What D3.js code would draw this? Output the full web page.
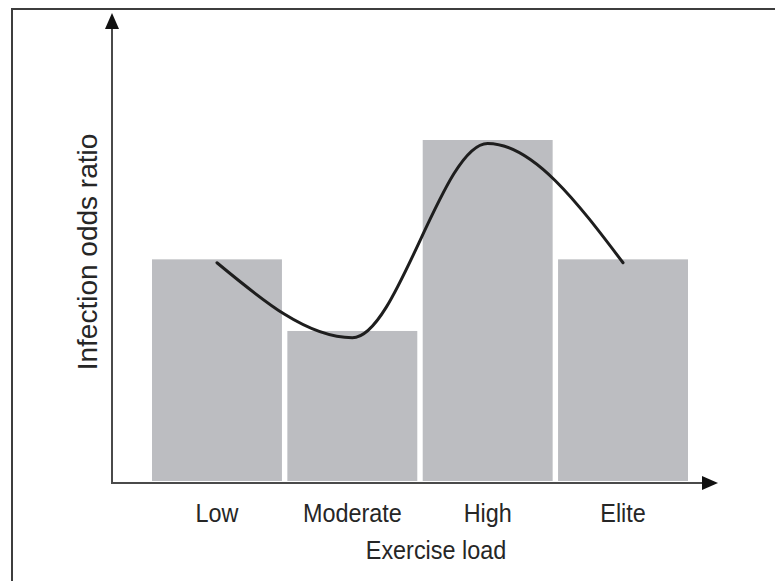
<!DOCTYPE html>
<html>
<head>
<meta charset="utf-8">
<script src="https://cdn.jsdelivr.net/npm/d3@7"></script>
<style>
  html, body { margin: 0; padding: 0; background: #fff; }
  svg { display: block; }
</style>
</head>
<body>
<script>
// ---- data ----
const categories = ["Low", "Moderate", "High", "Elite"];
const barValues = [65, 44, 100, 65];      // relative infection odds (bar heights)
const curveValues = [64, 42, 99, 64];     // smooth trend line through category centres
const xTitle = "Exercise load";
const yTitle = "Infection odds ratio";

// ---- layout ----
const W = 775, H = 581;
const svg = d3.select("body").append("svg").attr("width", W).attr("height", H);

// outer frame (clipped at right/bottom like the reference)
svg.append("rect")
  .attr("x", 12).attr("y", 9).attr("width", W + 20).attr("height", H + 20)
  .attr("fill", "none").attr("stroke", "#3d3d3d").attr("stroke-width", 2);

const x = d3.scaleBand().domain(categories).range([152, 688]).paddingInner(0.04).paddingOuter(0);
const y = d3.scaleLinear().domain([0, 100]).range([481, 140]);

// bars
svg.append("g").selectAll("rect").data(categories).join("rect")
  .attr("x", d => x(d))
  .attr("width", x.bandwidth())
  .attr("y", (d, i) => y(barValues[i]))
  .attr("height", (d, i) => y(0) - y(barValues[i]))
  .attr("fill", "#bcbdc1");

// axes with arrows
const axisColor = "#4a4a4a";
const ax0 = 112, ay0 = 483;
svg.append("line").attr("x1", ax0).attr("y1", ay0 + 1).attr("x2", ax0).attr("y2", 26)
  .attr("stroke", axisColor).attr("stroke-width", 2);
svg.append("line").attr("x1", ax0 - 1).attr("y1", ay0).attr("x2", 705).attr("y2", ay0)
  .attr("stroke", axisColor).attr("stroke-width", 2);
svg.append("path").attr("d", `M${ax0},13 L${ax0 - 7},29 L${ax0 + 7},29 Z`).attr("fill", "#111");
svg.append("path").attr("d", `M718,${ay0} L702,${ay0 - 7} L702,${ay0 + 7} Z`).attr("fill", "#111");

// trend curve
const line = d3.line()
  .x((d, i) => x(categories[i]) + x.bandwidth() / 2)
  .y(d => y(d))
  .curve(d3.curveMonotoneX);
svg.append("path").datum(curveValues)
  .attr("d", line)
  .attr("fill", "none").attr("stroke", "#1e1e1e").attr("stroke-width", 3)
  .attr("stroke-linecap", "round");

// category labels (slightly condensed sans, like the reference)
const font = "'Liberation Sans', Arial, Helvetica, sans-serif";
const textColor = "#262626";
svg.append("g").selectAll("text").data(categories).join("text")
  .attr("transform", d => `translate(${x(d) + x.bandwidth() / 2},522) scale(0.9,1)`)
  .attr("text-anchor", "middle")
  .attr("font-family", font).attr("font-size", 26)
  .attr("fill", textColor)
  .text(d => d);

// axis titles
svg.append("text")
  .attr("transform", "translate(436,559) scale(0.9,1)")
  .attr("text-anchor", "middle")
  .attr("font-family", font).attr("font-size", 26)
  .attr("fill", textColor)
  .text(xTitle);

svg.append("text")
  .attr("transform", "translate(97,252) rotate(-90)")
  .attr("text-anchor", "middle")
  .attr("font-family", font).attr("font-size", 28)
  .attr("fill", textColor)
  .text(yTitle);
</script>
</body>
</html>
